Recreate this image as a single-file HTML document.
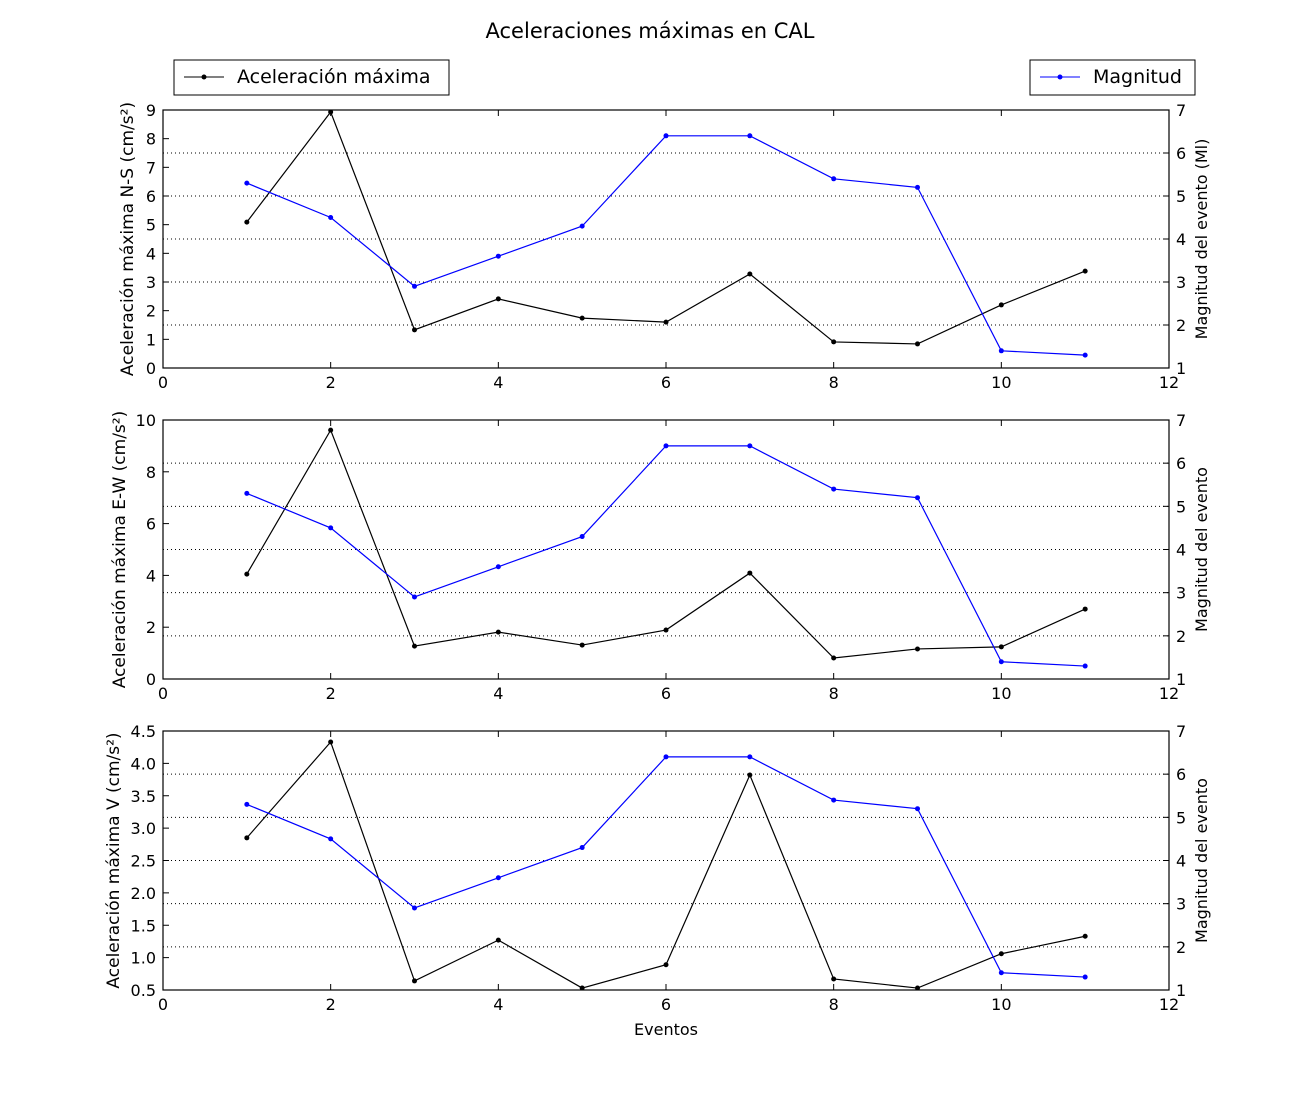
<!DOCTYPE html>
<html><head><meta charset="utf-8">
<style>
body{margin:0;background:#fff;}
svg text{font-family:"DejaVu Sans","Liberation Sans",sans-serif;fill:#000;}
</style></head>
<body>
<svg id="chart" width="1300" height="1100" xmlns="http://www.w3.org/2000/svg">
<rect width="1300" height="1100" fill="#fff"/>
<text x="650" y="38" font-size="21" text-anchor="middle">Aceleraciones máximas en CAL</text>
<g>
<rect x="174" y="60" width="275" height="35" fill="#fff" stroke="#000"/>
<line x1="184" y1="77" x2="224" y2="77" stroke="#000"/><circle cx="204" cy="77" r="2.5" fill="#000"/>
<text x="237" y="83" font-size="19">Aceleración máxima</text>
</g>
<g>
<rect x="1030" y="60" width="165" height="35" fill="#fff" stroke="#000"/>
<line x1="1040" y1="77" x2="1080" y2="77" stroke="#00f"/><circle cx="1060" cy="77" r="2.5" fill="#00f"/>
<text x="1093" y="83" font-size="19">Magnitud</text>
</g>
<g id="panels"></g>
<text x="666" y="1035" font-size="16" text-anchor="middle">Eventos</text>
</svg>
<script>
const events = [1,2,3,4,5,6,7,8,9,10,11];
const magnitude = [5.3,4.5,2.9,3.6,4.3,6.4,6.4,5.4,5.2,1.4,1.3];
const accNS = [5.09,8.93,1.33,2.41,1.74,1.6,3.28,0.91,0.84,2.2,3.38];
const accEW = [4.05,9.61,1.27,1.81,1.31,1.89,4.09,0.81,1.16,1.24,2.7];
const accV = [2.85,4.33,0.64,1.27,0.53,0.89,3.82,0.67,0.53,1.06,1.33];
const xTicks = [0,2,4,6,8,10,12];
const magTicks = [1,2,3,4,5,6,7];
const nsTicks = [0,1,2,3,4,5,6,7,8,9];
const ewTicks = [0,2,4,6,8,10];
const vTicks = [0.5,1.0,1.5,2.0,2.5,3.0,3.5,4.0,4.5];

const NS='http://www.w3.org/2000/svg';
const root=document.getElementById('panels');
function mk(tag,attrs,parent){const e=document.createElementNS(NS,tag);for(const k in attrs)e.setAttribute(k,attrs[k]);(parent||root).appendChild(e);return e;}
const X0=163,X1=1169;
function xs(v){return X0+(v-0)/(12-0)*(X1-X0);}

const panels=[
 {top:110,bot:368,data:accNS,ticks:nsTicks,min:0,max:9,label:'Aceleración máxima N-S (cm/s²)',rlabel:'Magnitud del evento (Ml)',fmt:v=>String(v),name:'ns',lx:133},
 {top:420,bot:679,data:accEW,ticks:ewTicks,min:0,max:10,label:'Aceleración máxima E-W (cm/s²)',rlabel:'Magnitud del evento',fmt:v=>String(v),name:'ew',lx:125},
 {top:731,bot:990,data:accV,ticks:vTicks,min:0.5,max:4.5,label:'Aceleración máxima V (cm/s²)',rlabel:'Magnitud del evento',fmt:v=>v.toFixed(1),name:'v',lx:119}
];
panels.forEach(p=>{
 const g=mk('g',{});
 
 
 const ys=v=>p.bot-(v-p.min)/(p.max-p.min)*(p.bot-p.top);
 const ym=v=>p.bot-(v-1)/(7-1)*(p.bot-p.top);
 magTicks.slice(1,-1).forEach(m=>{
  const l=mk('line',{x1:X0,x2:X1,y1:ym(m),y2:ym(m),stroke:'#000','stroke-dasharray':'1,3','stroke-width':1},g);
  
  
 });
 const pa=mk('polyline',{points:events.map((e,i)=>xs(e)+','+ys(p.data[i])).join(' '),fill:'none',stroke:'#000','stroke-width':1.2},g);
 
 
 const pm=mk('polyline',{points:events.map((e,i)=>xs(e)+','+ym(magnitude[i])).join(' '),fill:'none',stroke:'#00f','stroke-width':1.2},g);
 
 
 events.forEach((e,i)=>{
  const c=mk('circle',{cx:xs(e),cy:ys(p.data[i]),r:2.5,fill:'#000'},g);
  
  
  const c2=mk('circle',{cx:xs(e),cy:ym(magnitude[i]),r:2.5,fill:'#00f'},g);
  
  
 });
 mk('rect',{x:X0,y:p.top,width:X1-X0,height:p.bot-p.top,fill:'none',stroke:'#000','stroke-width':1.2},g);
 xTicks.forEach(t=>{
  const x=xs(t);
  mk('line',{x1:x,x2:x,y1:p.bot,y2:p.bot-6,stroke:'#000'},g);
  mk('line',{x1:x,x2:x,y1:p.top,y2:p.top+6,stroke:'#000'},g);
  const tx=mk('text',{x:x,y:p.bot+20,'font-size':16,'text-anchor':'middle'},g);tx.textContent=t;
  
  
 });
 p.ticks.forEach(t=>{
  const y=ys(t);
  mk('line',{x1:X0,x2:X0+6,y1:y,y2:y,stroke:'#000'},g);
  const tx=mk('text',{x:X0-7,y:y+6,'font-size':16,'text-anchor':'end'},g);tx.textContent=p.fmt(t);
  
  
 });
 magTicks.forEach(t=>{
  const y=ym(t);
  mk('line',{x1:X1,x2:X1-6,y1:y,y2:y,stroke:'#000'},g);
  const tx=mk('text',{x:X1+7,y:y+6,'font-size':16},g);tx.textContent=t;
  
  
 });
 const cy=(p.top+p.bot)/2;
 const ll=mk('text',{x:0,y:0,'font-size':17,'text-anchor':'middle',transform:`translate(${p.lx},${cy}) rotate(-90)`},g);ll.textContent=p.label;
 
 
 const rl=mk('text',{x:0,y:0,'font-size':16,'text-anchor':'middle',transform:`translate(1207,${cy}) rotate(-90)`},g);rl.textContent=p.rlabel;
 
 
});
</script>
</body></html>
